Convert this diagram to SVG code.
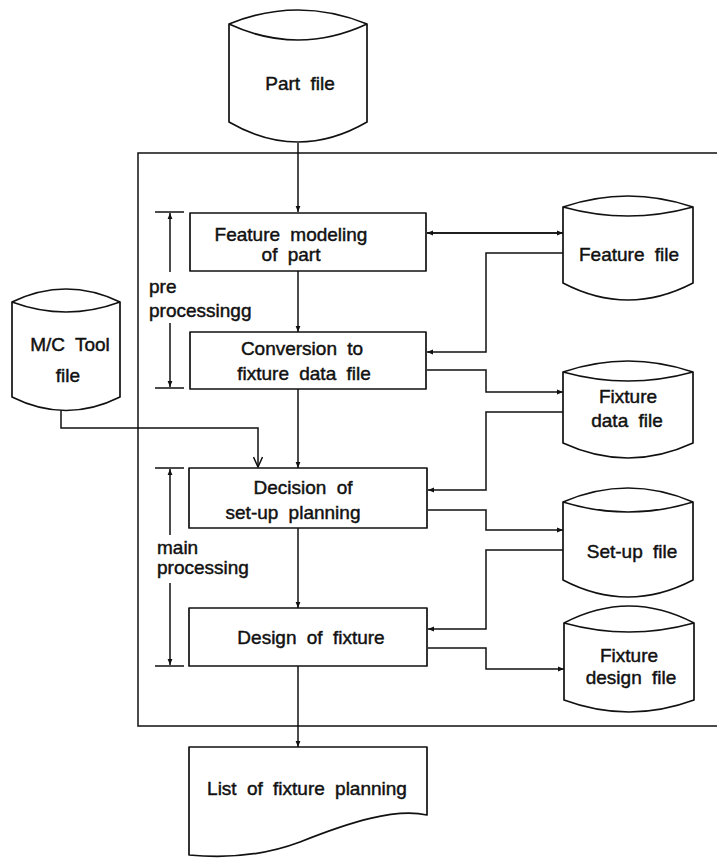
<svg xmlns="http://www.w3.org/2000/svg" width="717" height="860" viewBox="0 0 717 860">
<defs>
<style>
.s{fill:#fff;stroke:#111;stroke-width:1.7;stroke-linejoin:round}
.c{fill:none;stroke:#111;stroke-width:1.5}
.t{font-family:"Liberation Sans",Arial,sans-serif;font-size:19px;word-spacing:5px;fill:#111;stroke:#111;stroke-width:0.45;text-anchor:middle}
.l{font-family:"Liberation Sans",Arial,sans-serif;font-size:19px;fill:#111;stroke:#111;stroke-width:0.45}
</style>
<marker id="a" viewBox="0 0 10 10" refX="10" refY="5" markerWidth="8" markerHeight="6" markerUnits="userSpaceOnUse" orient="auto">
<path d="M0,1 L10,5 L0,9 Z" fill="#111"/>
</marker>
<marker id="v" viewBox="0 0 10 10" refX="10" refY="5" markerWidth="12" markerHeight="10" markerUnits="userSpaceOnUse" orient="auto">
<path d="M0,0.5 L10,5 L0,9.5" fill="none" stroke="#111" stroke-width="1.5"/>
</marker>
</defs>
<rect width="717" height="860" fill="#fff"/>

<g id="frame">
<path class="c" d="M717,153 H138 V726 H717" stroke-width="1.8"/>
</g>

<g id="connectors">
<path class="c" d="M298,143 V212" marker-end="url(#a)"/>
<path class="c" d="M298,271 V332" marker-end="url(#a)"/>
<path class="c" d="M298,389 V468" marker-end="url(#a)"/>
<path class="c" d="M298,528 V608" marker-end="url(#a)"/>
<path class="c" d="M298,666 V747" marker-end="url(#a)"/>
<path class="c" d="M427,233 H563" marker-end="url(#a)"/>
<path class="c" d="M563,233 H427" marker-end="url(#a)"/>
<path class="c" d="M563,253 H486 V352 H427" marker-end="url(#a)"/>
<path class="c" d="M427,370 H486 V392 H563" marker-end="url(#a)"/>
<path class="c" d="M563,412 H486 V490 H428" marker-end="url(#a)"/>
<path class="c" d="M428,510 H486 V530 H563" marker-end="url(#a)"/>
<path class="c" d="M563,550 H486 V629 H428" marker-end="url(#a)"/>
<path class="c" d="M428,648 H486 V669 H564" marker-end="url(#a)"/>
<path class="c" d="M61,410 V428 H258 V467" marker-end="url(#v)"/>
</g>

<g id="pre-bracket">
<path class="c" d="M155,212 H184 M155,388 H184"/>
<path class="c" d="M170,272 V213" marker-end="url(#a)"/>
<path class="c" d="M170,323 V387" marker-end="url(#a)"/>
<text class="l" x="149" y="293">pre</text>
<text class="l" x="149" y="317">processingg</text>
</g>

<g id="main-bracket">
<path class="c" d="M155,468 H184 M155,666 H184"/>
<path class="c" d="M170,535 V469" marker-end="url(#a)"/>
<path class="c" d="M170,583 V665" marker-end="url(#a)"/>
<text class="l" x="157" y="554">main</text>
<text class="l" x="157" y="574">processing</text>
</g>

<g id="part-file">
<path class="s" d="M229,24 Q298,-4 367,24 V122 Q298,162 229,122 Z"/>
<path class="s" d="M229,24 Q298,56 367,24" fill="none"/>
<text class="t" x="300" y="90">Part file</text>
</g>

<g id="feature-modeling">
<rect class="s" x="190" y="213" width="236" height="58"/>
<text class="t" x="291" y="241">Feature modeling</text>
<text class="t" x="291" y="261">of part</text>
</g>

<g id="conversion">
<rect class="s" x="190" y="332" width="236" height="57"/>
<text class="t" x="302" y="355">Conversion to</text>
<text class="t" x="304" y="380">fixture data file</text>
</g>

<g id="decision">
<rect class="s" x="189" y="468" width="238" height="60"/>
<text class="t" x="303" y="494">Decision of</text>
<text class="t" x="293" y="519">set-up planning</text>
</g>

<g id="design">
<rect class="s" x="189" y="608" width="238" height="58"/>
<text class="t" x="311" y="644">Design of fixture</text>
</g>

<g id="list">
<path class="s" d="M189,747 H427 V815 C395,808 350,822 300,842 C260,857 220,858 189,855 Z"/>
<text class="t" x="307" y="795">List of fixture planning</text>
</g>

<g id="mc-tool-file">
<path class="s" d="M12,302 Q66,276 120,302 V397 Q66,424 12,397 Z"/>
<path class="s" d="M12,302 Q66,322 120,302" fill="none"/>
<text class="t" x="70" y="351">M/C Tool</text>
<text class="t" x="68" y="382">file</text>
</g>

<g id="feature-file">
<path class="s" d="M563,207 Q628,185 693,207 V283 Q628,317 563,283 Z"/>
<path class="s" d="M563,207 Q628,225 693,207" fill="none"/>
<text class="t" x="629" y="261">Feature file</text>
</g>

<g id="fixture-data-file">
<path class="s" d="M563,372 Q628,350 693,372 V443 Q628,473 563,443 Z"/>
<path class="s" d="M563,372 Q628,390 693,372" fill="none"/>
<text class="t" x="628" y="403">Fixture</text>
<text class="t" x="627" y="427">data file</text>
</g>

<g id="setup-file">
<path class="s" d="M563,502 Q628,474 693,502 V580 Q628,614 563,580 Z"/>
<path class="s" d="M563,502 Q628,522 693,502" fill="none"/>
<text class="t" x="632" y="558">Set-up file</text>
</g>

<g id="fixture-design-file">
<path class="s" d="M564,623 Q629,589 694,623 V700 Q629,724 564,700 Z"/>
<path class="s" d="M564,623 Q629,641 694,623" fill="none"/>
<text class="t" x="629" y="662">Fixture</text>
<text class="t" x="631" y="684">design file</text>
</g>
</svg>
